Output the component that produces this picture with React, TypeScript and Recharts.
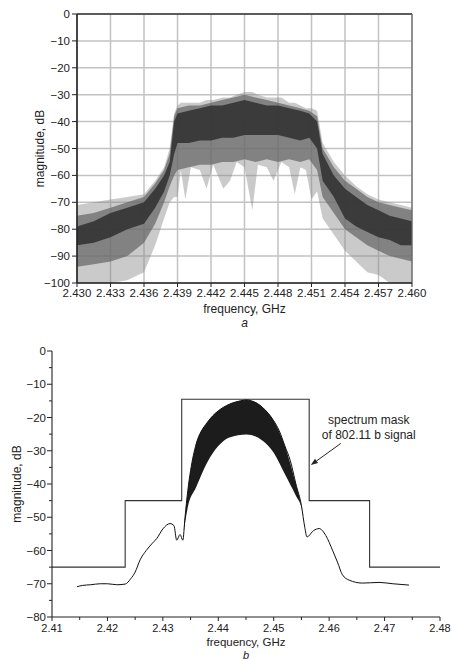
import React from 'react';
import { ComposedChart, XAxis, YAxis, CartesianGrid, Area, Line, ReferenceLine } from 'recharts';

const FONT = '"Liberation Sans", Arial, sans-serif';

// ---- chart a: measured spectrum (envelopes of the noisy traces) ----
const topFreq = [
  2.43, 2.4315, 2.433, 2.4345, 2.436, 2.437, 2.4378, 2.4383, 2.4387, 2.439, 2.44, 2.441, 2.442, 2.443, 2.444,
  2.445, 2.446, 2.447, 2.448, 2.449, 2.45, 2.4508, 2.4515, 2.452, 2.453, 2.454, 2.455, 2.456, 2.457, 2.458,
  2.459, 2.46,
];
const topMidLo = [-94, -93, -92, -90, -85, -78, -70, -64, -60, -58, -57, -56, -56, -55, -55, -54, -55, -54, -55, -54, -55, -54, -58, -68, -74, -80, -83, -86, -88, -90, -91, -92];
const topMidHi = [-75, -74, -72, -70, -68, -63, -58, -52, -38, -35, -34, -34, -33, -32, -31, -30, -31, -32, -33, -34, -35, -36, -38, -50, -57, -62, -65, -68, -70, -71, -72, -73];
const topDarkLo = [-86, -85, -83, -80, -78, -72, -66, -60, -52, -48, -48, -47, -47, -46, -46, -45, -45, -45, -45, -46, -47, -46, -50, -62, -68, -76, -79, -81, -83, -84, -86, -86];
const topDarkHi = [-79, -77, -74, -72, -70, -65, -60, -55, -40, -37, -36, -35, -34, -34, -33, -32, -33, -34, -34, -35, -36, -37, -40, -52, -60, -65, -68, -71, -73, -75, -76, -77];

// faint outer traces, with the deepest notches
const lightFreq = [
  2.43, 2.4315, 2.433, 2.4345, 2.436, 2.437, 2.4378, 2.4383, 2.4387, 2.439, 2.4393, 2.4397, 2.4402, 2.441,
  2.4416, 2.4422, 2.4431, 2.4437, 2.4443, 2.445, 2.4457, 2.4462, 2.447, 2.4476, 2.4483, 2.449, 2.4495, 2.45,
  2.4505, 2.451, 2.4515, 2.452, 2.453, 2.454, 2.455, 2.456, 2.457, 2.458, 2.459, 2.46,
];
const lightLo = [
  -100, -100, -100, -99, -96, -86, -76, -70, -68, -68, -58, -69, -57, -58,
  -65, -56, -65, -62, -55, -57, -73, -56, -57, -62, -55, -57, -67, -57,
  -58, -69, -66, -76, -82, -88, -92, -96, -97, -100, -100, -100,
];
const lightHi = [
  -71, -70, -69, -68, -67, -62, -57, -50, -37, -34, -33, -33, -33, -33,
  -32, -32, -31, -31, -30, -29, -29, -30, -31, -31, -31, -33, -33, -34,
  -35, -35, -36, -48, -55, -60, -64, -67, -69, -70, -71, -72,
];

const topXTicks = [2.43, 2.433, 2.436, 2.439, 2.442, 2.445, 2.448, 2.451, 2.454, 2.457, 2.46];
const topYTicks = [0, -10, -20, -30, -40, -50, -60, -70, -80, -90, -100];

// ---- chart b: simulated spectrum and 802.11b mask ----
const sigFreq = [
  2.4145, 2.4155, 2.417, 2.4187, 2.42, 2.4217, 2.4232, 2.4242, 2.425, 2.4259, 2.427, 2.428, 2.4289, 2.43, 2.4313,
  2.432, 2.4325, 2.4331, 2.4336, 2.434, 2.4345, 2.435, 2.436, 2.437, 2.438, 2.439, 2.44, 2.442, 2.444, 2.4451,
  2.446, 2.448, 2.45, 2.451, 2.452, 2.453, 2.454, 2.455, 2.4556, 2.456, 2.4572, 2.4582, 2.4594, 2.4606, 2.4615,
  2.4624, 2.4636, 2.466, 2.469, 2.4715, 2.4744,
];
const sigDb = [
  -70.9, -70.5, -70.3, -70.0, -70.0, -70.3, -70.1, -68.5, -66.5, -62.8, -60.0, -58.0, -56.4, -53.5, -51.9,
  -52.5, -56.9, -55.2, -56.9, -50, -42, -36, -28, -24, -21.5, -19.5, -18, -16, -15, -14.7,
  -15, -17, -21, -24, -28.5, -33, -40, -46.5, -53, -55.9, -54.0, -53.4, -55.5, -59.9, -63.5,
  -67.3, -68.9, -69.8, -69.6, -70.0, -70.4,
];
const lobeFreq = [2.4338, 2.4345, 2.436, 2.438, 2.44, 2.442, 2.4451, 2.448, 2.45, 2.452, 2.454, 2.455, 2.4554];
const lobeHi = [-53, -42, -28, -21.5, -18, -16, -14.7, -17, -21, -28.5, -40, -46.5, -50];
const lobeLo = [-54, -47, -41, -33.5, -28.6, -26, -25.1, -27, -30.6, -37, -43.5, -47, -50];
const maskFreq = [2.41, 2.4232, 2.4334, 2.4564, 2.4673, 2.48];
const maskDb = [-65, -45, -14.5, -45, -65, -65];

const botXTicks = [2.41, 2.415, 2.42, 2.425, 2.43, 2.435, 2.44, 2.445, 2.45, 2.455, 2.46, 2.465, 2.47, 2.475, 2.48];
const botYTicks = [0, -5, -10, -15, -20, -25, -30, -35, -40, -45, -50, -55, -60, -65, -70, -75, -80];

const coreData = topFreq.map((f, i) => ({
  f,
  mid: [topMidLo[i], topMidHi[i]],
  dark: [topDarkLo[i], topDarkHi[i]],
}));
const lightData = lightFreq.map((f, i) => ({ f, r: [lightLo[i], lightHi[i]] }));
const sigData = sigFreq.map((f, i) => ({ f, v: sigDb[i] }));
const lobeData = lobeFreq.map((f, i) => ({ f, r: [lobeLo[i], lobeHi[i]] }));
const maskData = maskFreq.map((f, i) => ({ f, v: maskDb[i] }));

const dbLabel = (v: number) => (v === 0 ? '0' : '\u2212' + Math.abs(v));

function XCaption({ viewBox, dy, gap, size, letterSize, letter }: any) {
  const cx = viewBox.x + viewBox.width / 2;
  return (
    <g fontFamily={FONT} fill="#222">
      <text x={cx} y={viewBox.y + dy} textAnchor="middle" fontSize={size}>frequency, GHz</text>
      <text x={cx} y={viewBox.y + dy + gap} textAnchor="middle" fontSize={letterSize} fontStyle="italic">{letter}</text>
    </g>
  );
}

function YCaption({ viewBox, cx }: any) {
  const cy = viewBox.y + viewBox.height / 2;
  return (
    <text
      x={cx}
      y={cy}
      transform={`rotate(-90 ${cx} ${cy})`}
      textAnchor="middle"
      dominantBaseline="central"
      fontSize={12}
      fontFamily={FONT}
      fill="#222"
    >
      magnitude, dB
    </text>
  );
}

function BotYTick({ x, y, payload }: any) {
  const major = payload.value % 10 === 0;
  return (
    <g>
      <line x1={x} x2={x - (major ? 5 : 3)} y1={y} y2={y} stroke="#222" strokeWidth={1} />
      {major && (
        <text x={x - 6} y={y} dy={4} textAnchor="end" fontSize={11.5} fontFamily={FONT} fill="#222">
          {dbLabel(payload.value)}
        </text>
      )}
    </g>
  );
}

function BotXTick({ x, y, payload }: any) {
  const major = Math.round(payload.value * 1000) % 10 === 0;
  return (
    <g>
      <line x1={x} x2={x} y1={y} y2={y + (major ? 4 : 3)} stroke="#222" strokeWidth={1} />
      {major && (
        <text x={x} y={y + 15} textAnchor="middle" fontSize={11} fontFamily={FONT} fill="#222">
          {payload.value.toFixed(2)}
        </text>
      )}
    </g>
  );
}

function MaskArrow({ x1, y1, x2, y2 }: any) {
  const ang = Math.atan2(y2 - y1, x2 - x1);
  const len = 7;
  const w = 2.6;
  const bx = x2 - len * Math.cos(ang);
  const by = y2 - len * Math.sin(ang);
  const px = -Math.sin(ang) * w;
  const py = Math.cos(ang) * w;
  return (
    <g>
      <line x1={x1} y1={y1} x2={bx} y2={by} stroke="#222" strokeWidth={1} />
      <polygon points={`${x2},${y2} ${bx + px},${by + py} ${bx - px},${by - py}`} fill="#222" />
      <g fontFamily={FONT} fontSize={12} fill="#222" textAnchor="middle">
        <text x={x1 + 28} y={y1 - 19.5}>spectrum mask</text>
        <text x={x1 + 28} y={y1 - 4}>of 802.11 b signal</text>
      </g>
    </g>
  );
}

const tickStyle = { fill: '#222', fontSize: 11.5, fontFamily: FONT };

export default function App() {
  return (
    <div style={{ position: 'absolute', left: 0, top: 0, width: 452, height: 661, background: '#fff' }}>
      <div style={{ position: 'absolute', left: 0, top: 0 }}>
        <ComposedChart width={452} height={330} margin={{ top: 14, right: 40, bottom: 0, left: 0 }}>
          <CartesianGrid stroke="#c2c2c2" strokeWidth={1.5} />
          <XAxis
            type="number"
            dataKey="f"
            domain={[2.43, 2.46]}
            ticks={topXTicks}
            tickFormatter={(v: number) => v.toFixed(3)}
            height={47}
            tick={tickStyle}
            tickSize={4}
            tickMargin={2}
            axisLine={{ stroke: '#222', strokeWidth: 1.6 }}
            tickLine={{ stroke: '#222' }}
            interval={0}
            label={{ content: (p: any) => <XCaption {...p} dy={30} gap={14} size={12} letterSize={12} letter="a" /> }}
          />
          <YAxis
            type="number"
            domain={[-100, 0]}
            ticks={topYTicks}
            tickFormatter={dbLabel}
            width={77}
            tick={tickStyle}
            tickSize={5}
            tickMargin={2}
            axisLine={{ stroke: '#222', strokeWidth: 1.6 }}
            tickLine={{ stroke: '#222' }}
            interval={0}
            label={{ content: (p: any) => <YCaption {...p} cx={40} /> }}
          />
          <Area data={lightData} type="linear" dataKey="r" stroke="none" fill="#8a8a8a" fillOpacity={0.45} isAnimationActive={false} />
          <Area data={coreData} type="linear" dataKey="mid" stroke="none" fill="#6a6a6a" fillOpacity={0.75} isAnimationActive={false} />
          <Area data={coreData} type="linear" dataKey="dark" stroke="none" fill="#333" fillOpacity={0.9} isAnimationActive={false} />
          <ReferenceLine y={0} stroke="#333" strokeWidth={1.4} />
          <ReferenceLine x={2.46} stroke="#666" strokeWidth={1.2} />
        </ComposedChart>
      </div>
      <div style={{ position: 'absolute', left: 0, top: 330 }}>
        <ComposedChart width={452} height={331} margin={{ top: 21, right: 12, bottom: 0, left: 0 }}>
          <XAxis
            type="number"
            dataKey="f"
            domain={[2.41, 2.48]}
            ticks={botXTicks}
            height={44}
            tick={<BotXTick />}
            tickSize={0}
            tickMargin={0}
            tickLine={false}
            axisLine={{ stroke: '#222', strokeWidth: 1.1 }}
            interval={0}
            label={{ content: (p: any) => <XCaption {...p} dy={29} gap={12.5} size={11.5} letterSize={11} letter="b" /> }}
          />
          <YAxis
            type="number"
            domain={[-80, 0]}
            ticks={botYTicks}
            width={52}
            tick={<BotYTick />}
            tickSize={0}
            tickMargin={0}
            tickLine={false}
            axisLine={{ stroke: '#222', strokeWidth: 1.1 }}
            interval={0}
            label={{ content: (p: any) => <YCaption {...p} cx={17} /> }}
          />
          <Line data={maskData} dataKey="v" type="stepAfter" stroke="#333" strokeWidth={1.1} dot={false} isAnimationActive={false} />
          <Area data={lobeData} dataKey="r" type="monotone" stroke="none" fill="#1c1c1c" fillOpacity={1} isAnimationActive={false} />
          <Line data={sigData} dataKey="v" type="monotone" stroke="#111" strokeWidth={1} dot={false} isAnimationActive={false} />
          <ReferenceLine
            segment={[{ x: 2.4621, y: -27.8 }, { x: 2.4567, y: -34.3 }]}
            ifOverflow="visible"
            shape={(p: any) => <MaskArrow {...p} />}
          />
        </ComposedChart>
      </div>
    </div>
  );
}
